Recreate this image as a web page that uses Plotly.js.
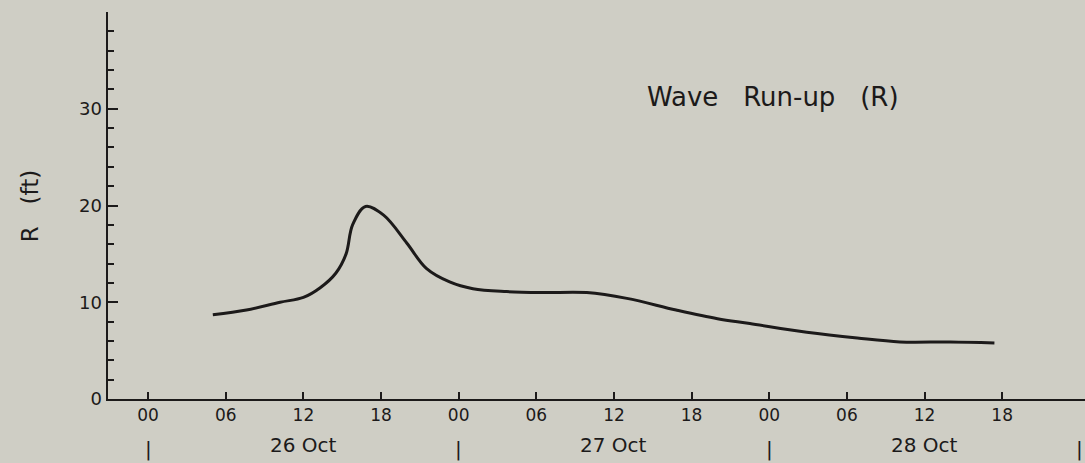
<!DOCTYPE html>
<html>
<head>
<meta charset="utf-8">
<script src="https://cdn.plot.ly/plotly-3.0.1.min.js"></script>
<style>
html,body{margin:0;padding:0;background:#cfcec5;}
#chart{width:1085px;height:463px;}
</style>
</head>
<body>
<div id="chart"></div>
<script>
// hours since 26 Oct 00:00
const hours = [5.0, 7.6, 10.2, 12.0, 13.3, 14.5, 15.3, 15.8, 16.8, 18.2, 20.0, 21.5, 23.3, 25.1, 27.7, 30.5, 33.9, 37.0, 40.8, 44.0, 46.5, 50.9, 54.8, 58.1, 62.0, 65.4];
const runup = [8.7, 9.2, 10.0, 10.5, 11.5, 13.0, 15.0, 18.0, 19.9, 19.0, 16.1, 13.5, 12.1, 11.4, 11.1, 11.0, 11.0, 10.4, 9.2, 8.3, 7.8, 6.9, 6.3, 5.9, 5.9, 5.8];
const tickHours = [0, 6, 12, 18, 24, 30, 36, 42, 48, 54, 60, 66];
const tickLabels = ["00", "06", "12", "18", "00", "06", "12", "18", "00", "06", "12", "18"];
const dayMarks = [0, 24, 48, 72];
const dayLabelPos = [12, 36, 60];
const dayLabels = ["26 Oct", "27 Oct", "28 Oct"];
const yTicks = [0, 10, 20, 30];

const ink = "#1c1a1a";
const font = {family: "DejaVu Sans, sans-serif", color: ink};

const annotations = [];
dayMarks.forEach(h => annotations.push({
  x: h, xref: "x", y: -0.13, yref: "paper", text: "|", showarrow: false,
  font: Object.assign({}, font, {size: 20}), yanchor: "middle"
}));
dayLabels.forEach((t, i) => annotations.push({
  x: dayLabelPos[i], xref: "x", y: -0.12, yref: "paper", text: t, showarrow: false,
  font: Object.assign({}, font, {size: 20}), yanchor: "middle"
}));
annotations.push({
  x: 48.3, xref: "x", y: 0.78, yref: "paper",
  text: "Wave&nbsp;&nbsp;&nbsp;Run-up&nbsp;&nbsp;&nbsp;(R)", showarrow: false,
  font: Object.assign({}, font, {size: 26}), xanchor: "center", yanchor: "middle"
});
annotations.push({
  x: -0.08, xref: "paper", y: 0.5, yref: "paper", text: "R&nbsp;&nbsp;&nbsp;(ft)", showarrow: false,
  textangle: -90, font: Object.assign({}, font, {size: 23}), xanchor: "center", yanchor: "middle"
});

Plotly.newPlot("chart", [{
  x: hours, y: runup, type: "scatter", mode: "lines",
  line: {color: ink, width: 3, shape: "spline", smoothing: 1},
  hoverinfo: "skip"
}], {
  width: 1085, height: 463,
  margin: {l: 108, r: 0, t: 12, b: 64},
  paper_bgcolor: "#cfcec5", plot_bgcolor: "#cfcec5",
  showlegend: false,
  font: font,
  xaxis: {
    range: [-3.1, 72.4], showgrid: false, zeroline: false,
    showline: true, linecolor: ink, linewidth: 2,
    tickmode: "array", tickvals: tickHours, ticktext: tickLabels,
    ticks: "inside", ticklen: 7, tickwidth: 2, tickcolor: ink,
    tickfont: Object.assign({}, font, {size: 17})
  },
  yaxis: {
    range: [0, 40], showgrid: false, zeroline: false,
    showline: true, linecolor: ink, linewidth: 2.5,
    tickmode: "array", tickvals: yTicks, ticktext: yTicks.map(String),
    ticks: "inside", ticklen: 10, tickwidth: 2, tickcolor: ink,
    tickfont: Object.assign({}, font, {size: 18}),
    minor: {tickmode: "linear", tick0: 0, dtick: 2, ticks: "inside", ticklen: 6, tickwidth: 2, tickcolor: ink}
  },
  annotations: annotations
}, {displayModeBar: false, staticPlot: true});
</script>
</body>
</html>
